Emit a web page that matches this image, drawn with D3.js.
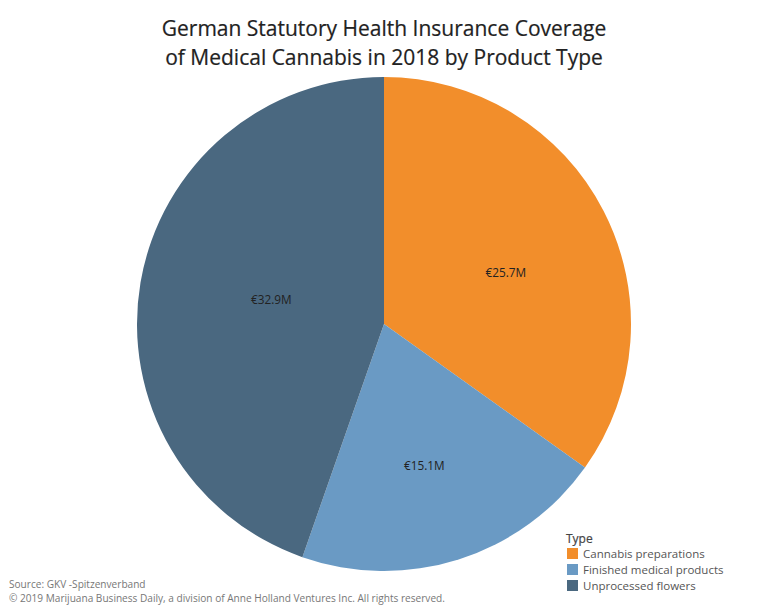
<!DOCTYPE html>
<html>
<head>
<meta charset="utf-8">
<script src="https://cdn.jsdelivr.net/npm/d3@7"></script>
<style>
html, body { margin: 0; padding: 0; background: #fff; }
text { font-family: "Open Sans", "Noto Sans", sans-serif; }
</style>
</head>
<body>
<script>
var categories = ["Cannabis preparations", "Finished medical products", "Unprocessed flowers"];
var values = [25.7, 15.1, 32.9];
var valueLabels = ["€25.7M", "€15.1M", "€32.9M"];
var colors = ["#f28e2b", "#6a9ac4", "#4a6880"];
var titleLines = ["German Statutory Health Insurance Coverage", "of Medical Cannabis in 2018 by Product Type"];
var sourceLines = ["Source: GKV -Spitzenverband", "© 2019 Marijuana Business Daily, a division of Anne Holland Ventures Inc. All rights reserved."];

var svg = d3.select("body").append("svg").attr("width", 768).attr("height", 614);

svg.selectAll("text.title")
	.data(titleLines)
	.enter()
	.append("text")
	.attr("class", "title")
	.attr("x", 384)
	.attr("y", function (d, i) { return 36 + i * 29; })
	.attr("text-anchor", "middle")
	.attr("font-size", 21)
	.attr("fill", "#222")
	.attr("stroke", "#222")
	.attr("stroke-width", 0.2)
	.text(function (d) { return d; });

var pie = d3.pie().sort(null).value(function (d) { return d; });
var arc = d3.arc().innerRadius(0).outerRadius(247);

var g = svg.append("g").attr("transform", "translate(384,324)");

g.selectAll("path")
	.data(pie(values))
	.enter()
	.append("path")
	.attr("d", arc)
	.attr("fill", function (d, i) { return colors[i]; });

// tableau doesn't put the labels on the centroid, nudge them
var labelNudge = [[12, 5], [3, 24], [9, -3]];

g.selectAll("text")
	.data(pie(values))
	.enter()
	.append("text")
	.attr("transform", function (d, i) {
		var c = arc.centroid(d);
		return "translate(" + (c[0] + labelNudge[i][0]) + "," + (c[1] + labelNudge[i][1]) + ")";
	})
	.attr("text-anchor", "middle")
	.attr("dy", "0.35em")
	.attr("font-size", 11.8)
	.attr("fill", "#222")
	.text(function (d, i) { return valueLabels[i]; });

var legend = svg.append("g").attr("transform", "translate(566,532)");

legend.append("text")
	.attr("x", 0)
	.attr("y", 11)
	.attr("font-size", 12)
	.attr("fill", "#444")
	.attr("stroke", "#444")
	.attr("stroke-width", 0.2)
	.text("Type");

var rows = legend.selectAll("g.row")
	.data(categories)
	.enter()
	.append("g")
	.attr("class", "row")
	.attr("transform", function (d, i) { return "translate(0," + (16 + i * 16) + ")"; });

rows.append("rect")
	.attr("x", 1)
	.attr("width", 11)
	.attr("height", 11)
	.attr("fill", function (d, i) { return colors[i]; });

rows.append("text")
	.attr("x", 17)
	.attr("y", 10)
	.attr("font-size", 11.5)
	.attr("fill", "#555")
	.text(function (d) { return d; });

svg.selectAll("text.source")
	.data(sourceLines)
	.enter()
	.append("text")
	.attr("class", "source")
	.attr("x", 9)
	.attr("y", function (d, i) { return 588 + i * 14; })
	.attr("font-size", 10.1)
	.attr("fill", "#777")
	.text(function (d) { return d; });
</script>
</body>
</html>
